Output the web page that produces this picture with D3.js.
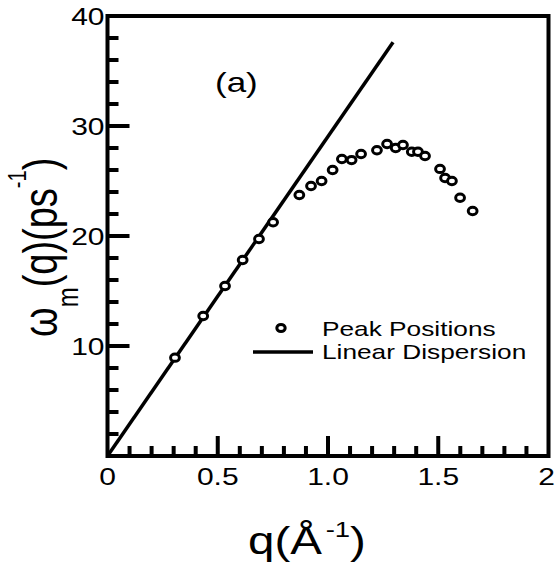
<!DOCTYPE html>
<html>
<head>
<meta charset="utf-8">
<script src="https://cdn.jsdelivr.net/npm/d3@7"></script>
<style>
  body { margin: 0; background: #fff; }
  svg { display: block; font-family: "Liberation Sans", Arial, sans-serif; }
</style>
</head>
<body>
<svg id="chart" width="555" height="567"></svg>
<script>
// peak positions: q in 1/Å, omega in 1/ps
let peakQ = [0.306, 0.434, 0.533, 0.613, 0.687, 0.751, 0.870, 0.923, 0.971, 1.021, 1.063, 1.107, 1.150, 1.222, 1.268, 1.307, 1.340, 1.380, 1.408, 1.440, 1.508, 1.531, 1.562, 1.599, 1.656];
let peakW = [8.94, 12.73, 15.45, 17.82, 19.73, 21.25, 23.73, 24.55, 25.0, 26.0, 27.0, 26.9, 27.45, 27.8, 28.36, 28.0, 28.27, 27.66, 27.66, 27.27, 26.1, 25.27, 25.0, 23.48, 22.27];
// linear dispersion omega = c q, drawn from q = 0 to 1.3
let lineQ = [0, 1.295];
let slope = 29.05;
let xTicks = [0, 0.5, 1, 1.5, 2];
let xTickLabels = ['0', '0.5', '1.0', '1.5', '2'];
let yTicks = [10, 20, 30, 40];
let xMinorTicks = [0.1, 0.2, 0.3, 0.4, 0.6, 0.7, 0.8, 0.9, 1.1, 1.2, 1.3, 1.4, 1.6, 1.7, 1.8, 1.9];
let yMinorTicks = [2, 4, 6, 8, 12, 14, 16, 18, 22, 24, 26, 28, 32, 34, 36, 38];
let legendLabels = ['Peak Positions', 'Linear Dispersion'];

// the original figure is stretched sideways, text included
const SX = 1.25;

const svg = d3.select('#chart');
const pLeft = 107.5, pRight = 548.5, pTop = 16, pBottom = 456;

const x = d3.scaleLinear().domain([0, 2]).range([pLeft, pRight]);
const y = d3.scaleLinear().domain([0, 40]).range([pBottom, pTop]);

function label(px, py, size, anchor) {
  return svg.append('text')
    .attr('transform', `translate(${px},${py}) scale(${SX},1)`)
    .attr('font-size', size)
    .attr('text-anchor', anchor || 'start')
    .attr('fill', '#000');
}

// frame and inward ticks in one path
const frame = d3.path();
frame.rect(pLeft, pTop, pRight - pLeft, pBottom - pTop);
xMinorTicks.forEach(function (d) {
  frame.moveTo(x(d), pBottom);
  frame.lineTo(x(d), pBottom - 10);
});
xTicks.slice(1, -1).forEach(function (d) {
  frame.moveTo(x(d), pBottom);
  frame.lineTo(x(d), pBottom - 20);
});
yMinorTicks.forEach(function (d) {
  frame.moveTo(pLeft, y(d));
  frame.lineTo(pLeft + 11, y(d));
});
yTicks.slice(0, -1).forEach(function (d) {
  frame.moveTo(pLeft, y(d));
  frame.lineTo(pLeft + 22, y(d));
});
svg.append('path')
  .attr('d', frame.toString())
  .attr('fill', 'none')
  .attr('stroke', '#000')
  .attr('stroke-width', 4);

// tick labels
svg.append('g').selectAll('text')
  .data(xTicks)
  .join('text')
  .attr('transform', d => `translate(${d === 2 ? 555 : x(d)},485) scale(${SX},1)`)
  .attr('text-anchor', d => d === 2 ? 'end' : 'middle')
  .attr('font-size', 24)
  .text((d, i) => xTickLabels[i]);

svg.append('g').selectAll('text')
  .data(yTicks)
  .join('text')
  .attr('transform', d => `translate(${pLeft - 3},${y(d) + 8.5}) scale(${SX},1)`)
  .attr('text-anchor', 'end')
  .attr('font-size', 24)
  .text(d => d);

// linear dispersion line
svg.append('path')
  .datum(lineQ)
  .attr('d', d3.line().x(d => x(d)).y(d => y(slope * d)))
  .attr('stroke', '#000')
  .attr('stroke-width', 3.5)
  .attr('fill', 'none');

// peak positions
svg.append('g').selectAll('ellipse')
  .data(peakQ)
  .join('ellipse')
  .attr('cx', d => x(d))
  .attr('cy', (d, i) => y(peakW[i]))
  .attr('rx', 4.4)
  .attr('ry', 3.7)
  .attr('fill', '#fff')
  .attr('stroke', '#000')
  .attr('stroke-width', 3);

// panel label
label(215, 92, 28).text('(a)');

// legend
svg.append('ellipse')
  .attr('cx', 281).attr('cy', 328).attr('rx', 4.2).attr('ry', 3.5)
  .attr('fill', '#fff').attr('stroke', '#000').attr('stroke-width', 3);
svg.append('line')
  .attr('x1', 253).attr('x2', 313).attr('y1', 352).attr('y2', 352)
  .attr('stroke', '#000').attr('stroke-width', 3.5);
label(322, 336, 21).text(legendLabels[0]);
label(322, 359, 21).text(legendLabels[1]);

// axis titles
const xt = label(248, 554, 38);
xt.append('tspan').text('q(Å');
xt.append('tspan').attr('font-size', 22).attr('dx', 3).attr('dy', -17).text('-1');
xt.append('tspan').attr('dy', 17).text(')');

const yt = svg.append('text')
  .attr('transform', `translate(57,337) scale(${SX},1) rotate(-90)`)
  .attr('font-size', 38);
yt.append('tspan').text('ω');
yt.append('tspan').attr('font-size', 24).attr('dy', 17).text('m');
yt.append('tspan').attr('dy', -17).text('(q)(ps');
yt.append('tspan').attr('font-size', 20).attr('dy', -25).text('-1');
yt.append('tspan').attr('dy', 25).text(')');
</script>
</body>
</html>
